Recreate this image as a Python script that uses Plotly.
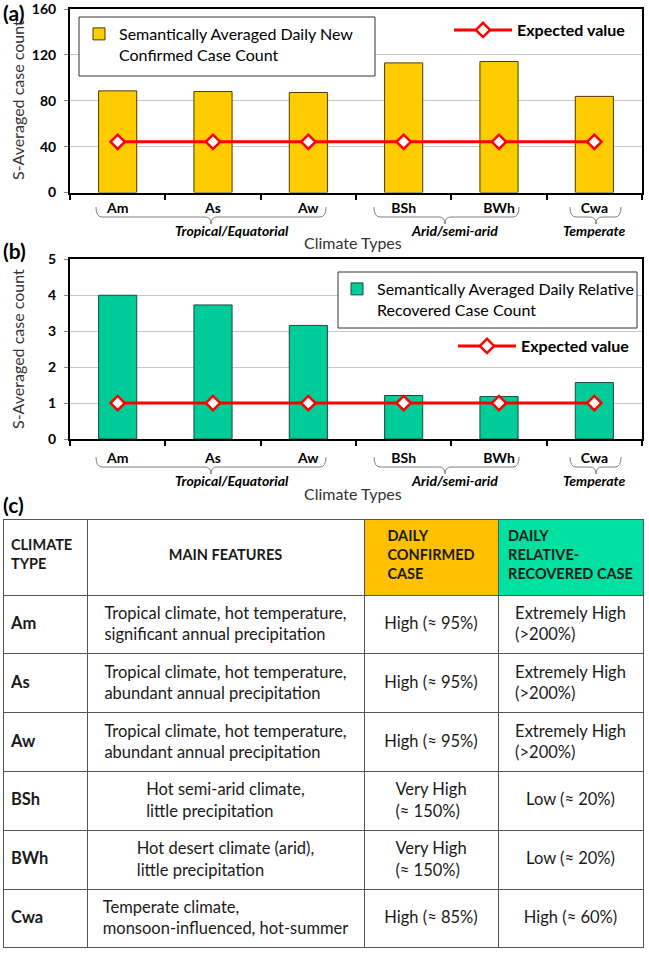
import plotly.graph_objects as go

W, H = 649, 956

# ---------------- data ----------------
climate_types = ["Am", "As", "Aw", "BSh", "BWh", "Cwa"]
confirmed_avg = [88.6, 88.0, 87.2, 113.0, 114.2, 83.8]
confirmed_expected = [44.2, 44.2, 44.2, 44.2, 44.2, 44.2]
recovered_avg = [4.0, 3.73, 3.16, 1.21, 1.18, 1.57]
recovered_expected = [1.0, 1.0, 1.0, 1.0, 1.0, 1.0]
confirmed_ticks = [0, 40, 80, 120, 160]
recovered_ticks = [0, 1, 2, 3, 4, 5]

groups = ["Tropical/Equatorial", "Arid/semi-arid", "Temperate"]

table_header = ["CLIMATE<br>TYPE", "MAIN FEATURES",
                "DAILY<br>CONFIRMED<br>CASE", "DAILY<br>RELATIVE-<br>RECOVERED CASE"]
table_types = ["Am", "As", "Aw", "BSh", "BWh", "Cwa"]
table_features = [
    "Tropical climate, hot temperature,<br>significant annual precipitation",
    "Tropical climate, hot temperature,<br>abundant annual precipitation",
    "Tropical climate, hot temperature,<br>abundant annual precipitation",
    "Hot semi-arid climate,<br>little precipitation",
    "Hot desert climate (arid),<br>little precipitation",
    "Temperate climate,<br>monsoon-influenced, hot-summer",
]
table_confirmed = ["High (≈ 95%)", "High (≈ 95%)", "High (≈ 95%)",
                   "Very High<br>(≈ 150%)", "Very High<br>(≈ 150%)", "High (≈ 85%)"]
table_recovered = ["Extremely High<br>(>200%)", "Extremely High<br>(>200%)", "Extremely High<br>(>200%)",
                   "Low (≈ 20%)", "Low (≈ 20%)", "High (≈ 60%)"]

# ---------------- styling ----------------
FONT = "Lato"
YELLOW = "#FFCC00"
GREEN = "#00CC99"
RED = "#FF0000"
HEAD_SIZE = 14.5
BODY_SIZE = 16.5
NBSP = "\u00a0"


def xp(px):
    return px / W


def yp(py):
    return 1 - py / H


def cell(txt, max_lines, size, bold=False):
    """Return (markup, element font size) so the text sits near the vertical middle
    of a plotly table cell (plotly tables align text to the top)."""
    lines = txt.split("<br>")
    n = len(lines)

    def wrap(s):
        s = f"<b>{s}</b>" if bold else s
        return f"<span style='font-size:{size}px'>{s}</span>"

    if n >= max_lines:
        return "<br>".join(wrap(s) for s in lines), size
    if max_lines - n == 2:          # one line in a three-line row: push down a full line
        return NBSP + "<br>" + "<br>".join(wrap(s) for s in lines), size
    if n == 1:                      # one line in a two-line row: push down half a line
        return NBSP + "<br>" + wrap(lines[0]), round(0.70 * size, 2)
    # two lines in a three-line row: half-line push using quarter-size spacer lines
    parts = [NBSP] * 4 + [wrap(lines[0])] + [NBSP] * 3 + [wrap(lines[1])]
    return "<br>".join(parts), size / 4


def column(values, max_lines, size, bold=False):
    out = [cell(v, max_lines, size, bold) for v in values]
    return [o[0] for o in out], [o[1] for o in out]


fig = go.Figure()

fig.add_trace(go.Bar(
    x=climate_types, y=confirmed_avg, width=0.4,
    marker=dict(color=YELLOW, line=dict(color="#4a3c00", width=1)),
    name="Semantically Averaged Daily New<br>Confirmed Case Count",
    xaxis="x", yaxis="y", legend="legend"))
fig.add_trace(go.Scatter(
    x=climate_types, y=confirmed_expected, mode="lines+markers",
    line=dict(color=RED, width=3),
    marker=dict(symbol="diamond", size=11, color="white", line=dict(color=RED, width=2.5)),
    name="<b>Expected value</b>", xaxis="x", yaxis="y", legend="legend2"))
fig.add_trace(go.Bar(
    x=climate_types, y=recovered_avg, width=0.4,
    marker=dict(color=GREEN, line=dict(color="#1f4a3a", width=1)),
    name="Semantically Averaged Daily Relative<br>Recovered Case Count",
    xaxis="x2", yaxis="y2", legend="legend3"))
fig.add_trace(go.Scatter(
    x=climate_types, y=recovered_expected, mode="lines+markers",
    line=dict(color=RED, width=3),
    marker=dict(symbol="diamond", size=11, color="white", line=dict(color=RED, width=2.5)),
    name="<b>Expected value</b>", xaxis="x2", yaxis="y2", legend="legend4"))

head_txt, head_size = column(table_header, 3, HEAD_SIZE, bold=True)
c0_txt, c0_size = column(table_types, 2, BODY_SIZE, bold=True)
c1_txt, c1_size = column(table_features, 2, BODY_SIZE)
c2_txt, c2_size = column(table_confirmed, 2, BODY_SIZE)
c3_txt, c3_size = column(table_recovered, 2, BODY_SIZE)

fig.add_trace(go.Table(
    domain=dict(x=[xp(3), xp(643)], y=[0, yp(519)]),
    columnwidth=[84, 277, 134, 145],
    header=dict(values=head_txt,
                align=["left", "center", "center", "center"],
                fill=dict(color=["white", "white", "#FFC000", "#00E0A0"]),
                line=dict(color="#555555", width=1),
                font=dict(family=FONT, size=head_size, color="#1a1a1a"),
                height=76),
    cells=dict(values=[c0_txt, c1_txt, c2_txt, c3_txt],
               align=["left", "center", "center", "center"],
               fill=dict(color="white"),
               line=dict(color="#555555", width=1),
               font=dict(family=FONT, size=BODY_SIZE, color="#1a1a1a"),
               height=58.8),
))
# plotly.js picks table fonts per cell (column x row); the python validator only
# accepts one level, so the per-cell sizes are set on the raw trace data.
fig._data[-1]["cells"]["font"]["size"] = [c0_size, c1_size, c2_size, c3_size]

xdom = [xp(70), xp(642)]
axis_common = dict(showline=True, linecolor="black", linewidth=2, mirror=True, automargin=False)
tick_font = dict(family=FONT, size=14, weight="bold", color="black")
fig.update_layout(
    width=W, height=H, margin=dict(l=0, r=0, t=0, b=0, autoexpand=False),
    paper_bgcolor="white", plot_bgcolor="white",
    font=dict(family=FONT, color="black"),
    showlegend=True, hovermode=False,
    xaxis=dict(domain=xdom, anchor="y", type="category", tickson="boundaries",
               ticks="outside", ticklen=5, tickwidth=2, tickcolor="black",
               tickfont=tick_font, ticklabelstandoff=2, **axis_common),
    yaxis=dict(domain=[yp(192.5), yp(9)], anchor="x", range=[0, 160],
               tickvals=confirmed_ticks, gridcolor="#c8c8c8", gridwidth=1,
               ticks="outside", ticklen=4, tickcolor="#888888", ticklabeloverflow="allow",
               tickfont=tick_font, ticklabelstandoff=5, zeroline=False, **axis_common),
    xaxis2=dict(domain=xdom, anchor="y2", type="category", tickson="boundaries",
                ticks="outside", ticklen=5, tickwidth=2, tickcolor="black",
                tickfont=tick_font, ticklabelstandoff=5, **axis_common),
    yaxis2=dict(domain=[yp(439), yp(259.3)], anchor="x2", range=[0, 5],
                tickvals=recovered_ticks, gridcolor="#c8c8c8", gridwidth=1,
                ticks="outside", ticklen=4, tickcolor="#888888", ticklabeloverflow="allow",
                tickfont=tick_font, ticklabelstandoff=5, zeroline=False, **axis_common),
    legend=dict(x=xp(79), y=yp(17), xanchor="left", yanchor="top",
                borderwidth=0, bgcolor="rgba(0,0,0,0)",
                font=dict(family=FONT, size=16, color="black"), valign="top"),
    legend2=dict(x=xp(449), y=yp(30), xanchor="left", yanchor="middle",
                 bgcolor="rgba(0,0,0,0)", itemwidth=58,
                 font=dict(family=FONT, size=16, color="black")),
    legend3=dict(x=xp(337), y=yp(272), xanchor="left", yanchor="top",
                 borderwidth=0, bgcolor="rgba(0,0,0,0)",
                 font=dict(family=FONT, size=16, color="black"), valign="top"),
    legend4=dict(x=xp(453), y=yp(346), xanchor="left", yanchor="middle",
                 bgcolor="rgba(0,0,0,0)", itemwidth=58,
                 font=dict(family=FONT, size=16, color="black")),
)

shapes = []
# legend boxes (white, bordered)
for (x0, y0, x1, y1) in [(79, 17, 375, 76), (338, 272, 637, 328)]:
    shapes.append(dict(type="rect", xref="paper", yref="paper",
                       x0=xp(x0), x1=xp(x1), y0=yp(y1), y1=yp(y0),
                       fillcolor="white", line=dict(color="#333333", width=1), layer="above"))

annotations = []
# panel letters
for lbl, py in [("(a)", 13), ("(b)", 250), ("(c)", 504)]:
    annotations.append(dict(text=f"<b>{lbl}</b>", x=xp(1), y=yp(py), xref="paper", yref="paper",
                            xanchor="left", yanchor="middle", showarrow=False,
                            font=dict(family=FONT, size=21, color="black")))
# y axis titles
for py in [100, 349]:
    annotations.append(dict(text="S-Averaged case count", x=xp(17), y=yp(py), xref="paper", yref="paper",
                            textangle=-90, xanchor="center", yanchor="middle", showarrow=False,
                            font=dict(family=FONT, size=16, color="#333333")))

# braces & group labels
brace_spans = [(96, 326, 211), (374, 519, 445), (570, 621, 596)]
group_centers = [232, 454, 594]
for top_y, group_y, title_y in [(207, 231, 243), (457, 480, 493)]:
    line_y = top_y + 10
    tip_y = top_y + 17
    for (x0, x1, xc) in brace_spans:
        r = 6
        path = (f"M {xp(x0)},{yp(top_y)} Q {xp(x0)},{yp(line_y)} {xp(x0 + r)},{yp(line_y)} "
                f"L {xp(xc - r)},{yp(line_y)} Q {xp(xc)},{yp(line_y)} {xp(xc)},{yp(tip_y)} "
                f"Q {xp(xc)},{yp(line_y)} {xp(xc + r)},{yp(line_y)} "
                f"L {xp(x1 - r)},{yp(line_y)} Q {xp(x1)},{yp(line_y)} {xp(x1)},{yp(top_y)}")
        shapes.append(dict(type="path", path=path, xref="paper", yref="paper",
                           line=dict(color="#808080", width=1)))
    for g, cx in zip(groups, group_centers):
        annotations.append(dict(text=f"<b><i>{g}</i></b>", x=xp(cx), y=yp(group_y), xref="paper", yref="paper",
                                xanchor="center", yanchor="middle", showarrow=False,
                                font=dict(family=FONT, size=14, color="black")))
    annotations.append(dict(text="Climate Types", x=xp(353), y=yp(title_y), xref="paper", yref="paper",
                            xanchor="center", yanchor="middle", showarrow=False,
                            font=dict(family=FONT, size=16, color="#333333")))

fig.update_layout(annotations=annotations, shapes=shapes)

fig.write_html("out.html", config={"displayModeBar": False, "staticPlot": True},
               post_script="document.body.style.margin='0px';")
